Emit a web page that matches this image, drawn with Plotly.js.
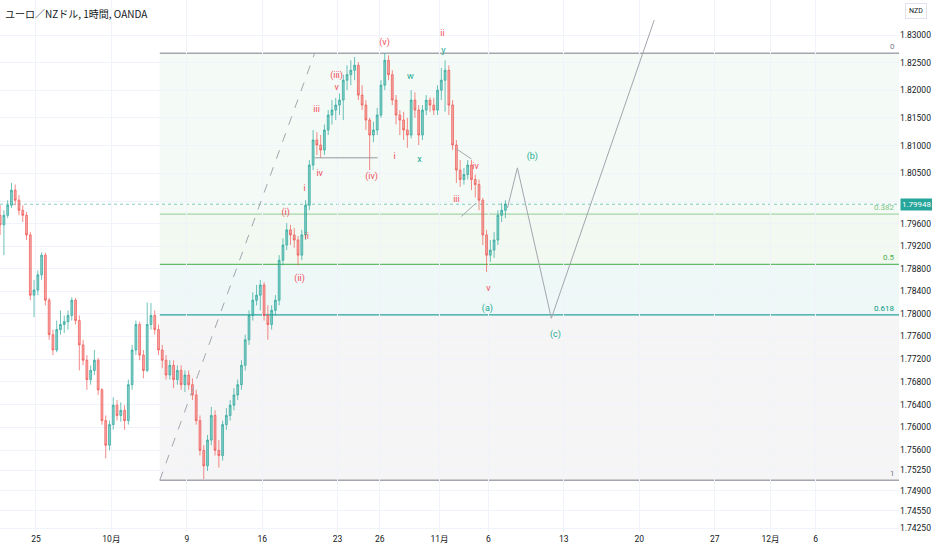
<!DOCTYPE html>
<html><head><meta charset="utf-8">
<script src="https://cdn.plot.ly/plotly-3.0.1.min.js"></script>
<style>html,body{margin:0;padding:0;background:#fff}#chart{width:932px;height:550px}</style>
</head><body><div id="chart"></div>
<script>
// ---- data (EUR/NZD, candles, ~6h resolution) ----
const opens = [
1.7975,1.7958,1.7975,1.7993,1.8020,1.8002,1.7984,1.7975,1.7940,1.7833,
1.7842,1.7869,1.7904,1.7824,1.7763,1.7736,1.7772,1.7781,1.7786,1.7797,
1.7824,1.7788,1.7745,1.7718,1.7684,1.7700,1.7718,1.7666,1.7612,1.7569,
1.7605,1.7639,1.7621,1.7630,1.7612,1.7675,1.7736,1.7781,1.7727,1.7700,
1.7781,1.7797,1.7772,1.7736,1.7718,1.7692,1.7709,1.7684,1.7700,1.7675,
1.7692,1.7675,1.7657,1.7612,1.7560,1.7533,1.7578,1.7621,1.7560,1.7551,
1.7605,1.7621,1.7639,1.7657,1.7675,1.7709,1.7754,1.7797,1.7824,1.7833,
1.7851,1.7797,1.7781,1.7806,1.7824,1.7895,1.7922,1.7949,1.7940,1.7931,
1.7904,1.7940,1.7993,1.8065,1.8110,1.8101,1.8092,1.8128,1.8155,1.8164,
1.8173,1.8182,1.8218,1.8228,1.8236,1.8245,1.8191,1.8173,1.8146,1.8119,
1.8128,1.8155,1.8209,1.8254,1.8228,1.8182,1.8155,1.8146,1.8128,1.8119,
1.8182,1.8164,1.8119,1.8164,1.8182,1.8173,1.8164,1.8200,1.8218,1.8236,
1.8173,1.8101,1.8056,1.8039,1.8048,1.8065,1.8039,1.8030,1.8002,1.7940,
1.7904,1.7913,1.7931,1.7975,1.7984];
const highs = [
1.7993,1.7984,1.8002,1.8033,1.8030,1.8011,1.7993,1.7981,1.7945,1.7860,
1.7877,1.7909,1.7908,1.7828,1.7772,1.7788,1.7806,1.7797,1.7806,1.7829,
1.7828,1.7797,1.7754,1.7727,1.7709,1.7736,1.7722,1.7669,1.7621,1.7612,
1.7653,1.7648,1.7644,1.7639,1.7684,1.7745,1.7788,1.7786,1.7736,1.7820,
1.7819,1.7806,1.7781,1.7745,1.7727,1.7718,1.7718,1.7709,1.7709,1.7700,
1.7700,1.7686,1.7666,1.7621,1.7569,1.7587,1.7636,1.7630,1.7578,1.7612,
1.7634,1.7648,1.7669,1.7684,1.7718,1.7763,1.7806,1.7838,1.7851,1.7860,
1.7856,1.7815,1.7815,1.7833,1.7904,1.7934,1.7961,1.7958,1.7952,1.7938,
1.7949,1.8002,1.8074,1.8128,1.8124,1.8119,1.8138,1.8164,1.8182,1.8186,
1.8194,1.8228,1.8245,1.8254,1.8260,1.8251,1.8209,1.8182,1.8150,1.8143,
1.8168,1.8218,1.8267,1.8263,1.8236,1.8191,1.8164,1.8161,1.8150,1.8200,
1.8196,1.8173,1.8173,1.8191,1.8187,1.8186,1.8209,1.8240,1.8254,1.8245,
1.8182,1.8110,1.8074,1.8060,1.8074,1.8074,1.8048,1.8039,1.8006,1.7949,
1.7931,1.7945,1.7984,1.7997,1.8002];
const lows = [
1.7940,1.7904,1.7970,1.7988,1.7993,1.7975,1.7963,1.7931,1.7824,1.7794,
1.7833,1.7860,1.7815,1.7754,1.7727,1.7732,1.7763,1.7766,1.7772,1.7788,
1.7781,1.7700,1.7709,1.7666,1.7675,1.7692,1.7657,1.7605,1.7546,1.7560,
1.7596,1.7612,1.7610,1.7596,1.7605,1.7666,1.7727,1.7718,1.7686,1.7697,
1.7772,1.7763,1.7727,1.7704,1.7684,1.7684,1.7669,1.7675,1.7666,1.7662,
1.7666,1.7648,1.7605,1.7551,1.7510,1.7524,1.7569,1.7551,1.7530,1.7542,
1.7596,1.7612,1.7630,1.7648,1.7666,1.7700,1.7745,1.7788,1.7815,1.7806,
1.7788,1.7754,1.7772,1.7797,1.7815,1.7886,1.7913,1.7922,1.7917,1.7886,
1.7895,1.7931,1.7984,1.8056,1.8083,1.8078,1.8083,1.8119,1.8138,1.8146,
1.8155,1.8146,1.8200,1.8209,1.8218,1.8182,1.8164,1.8128,1.8056,1.8106,
1.8119,1.8150,1.8200,1.8218,1.8173,1.8138,1.8119,1.8110,1.8096,1.8113,
1.8150,1.8101,1.8110,1.8155,1.8161,1.8155,1.8155,1.8182,1.8161,1.8155,
1.8092,1.8033,1.8026,1.8030,1.8039,1.8020,1.8007,1.7984,1.7922,1.7874,
1.7892,1.7899,1.7922,1.7963,1.7970];
const closes = [
1.7958,1.7975,1.7993,1.8020,1.8002,1.7984,1.7975,1.7940,1.7833,1.7842,
1.7869,1.7904,1.7824,1.7763,1.7736,1.7772,1.7781,1.7786,1.7797,1.7824,
1.7788,1.7745,1.7718,1.7684,1.7700,1.7718,1.7666,1.7612,1.7569,1.7605,
1.7639,1.7621,1.7630,1.7612,1.7675,1.7736,1.7781,1.7727,1.7700,1.7781,
1.7797,1.7772,1.7736,1.7718,1.7692,1.7709,1.7684,1.7700,1.7675,1.7692,
1.7675,1.7657,1.7612,1.7560,1.7533,1.7578,1.7621,1.7560,1.7551,1.7605,
1.7621,1.7639,1.7657,1.7675,1.7709,1.7754,1.7797,1.7824,1.7833,1.7851,
1.7797,1.7781,1.7806,1.7824,1.7895,1.7922,1.7949,1.7940,1.7931,1.7904,
1.7940,1.7993,1.8065,1.8110,1.8101,1.8092,1.8128,1.8155,1.8164,1.8173,
1.8182,1.8218,1.8228,1.8236,1.8245,1.8191,1.8173,1.8146,1.8119,1.8128,
1.8155,1.8209,1.8254,1.8228,1.8182,1.8155,1.8146,1.8128,1.8119,1.8182,
1.8164,1.8119,1.8164,1.8182,1.8173,1.8164,1.8200,1.8218,1.8236,1.8173,
1.8101,1.8056,1.8039,1.8048,1.8065,1.8039,1.8030,1.8002,1.7940,1.7904,
1.7913,1.7931,1.7975,1.7984,1.7995];

const lastPrice = 1.79948;
const firstBarDay = -2.375;   // trading-day index of first bar (0 = Sep 25)
const barDays = 0.25;         // each bar = 6 hours

// time axis (trading days since Sep 25)
const dateTickDays = [0, 5, 10, 15, 20, 22.8, 26.75, 30, 35, 40, 45, 48.7, 51.7];
const dateTickLabels = ['25', '10月', '9', '16', '23', '26', '11月', '6', '13', '20', '27', '12月', '6'];

// price axis
const priceTicks = [1.83,1.825,1.82,1.815,1.81,1.805,1.80,1.796,1.792,1.788,1.784,1.78,1.776,1.772,1.768,1.764,1.76,1.756,1.7525,1.749,1.7455,1.7425];

// Fibonacci retracement
const fibHigh = 1.8267, fibLow = 1.7508, fibStartDay = 8.21;
const fibRatios = [0, 0.382, 0.5, 0.618, 1];
const fibLabels = ['0', '0.382', '0.5', '0.618', '1'];

// Elliott wave labels
const redWaveText  = ['(v)', 'ii', '(iii)', 'v', 'iii', 'iv', '(iv)', 'i', 'i', '(i)', 'ii', '(ii)', 'iv', 'iii', 'v'];
const redWaveDay   = [23.11, 26.95, 19.93, 19.93, 18.61, 18.81, 22.25, 23.77, 17.81, 16.56, 17.95, 17.48, 29.14, 27.88, 30.0];
const redWavePrice = [1.8286, 1.8302, 1.8226, 1.8205, 1.8164, 1.8049, 1.8044, 1.8080, 1.8022, 1.7979, 1.7936, 1.7862, 1.8062, 1.8002, 1.7844];
const tealWaveText  = ['y', 'w', 'x', '(b)', '(a)', '(c)'];
const tealWaveDay   = [27.02, 24.83, 25.43, 32.91, 29.93, 34.44];
const tealWavePrice = [1.8272, 1.8224, 1.8074, 1.8080, 1.7808, 1.7763];

// projection path and drawings
const projDay   = [31.26, 31.92, 34.17, 40.99];
const projPrice = [1.7988, 1.8060, 1.7792, 1.8327];
const trendDay = [8.21, 18.48], trendPrice = [1.7508, 1.8267];
const ivLineDay = [18.48, 22.65], ivLinePrice = 1.8078;
const triUpperDay = [27.88, 28.87], triUpperPrice = [1.8094, 1.8076];
const triLowerDay = [28.21, 29.14], triLowerPrice = [1.7973, 1.7996];

// ---- build ----
const xs = closes.map((_, i) => firstBarDay + i * barDays);
const xRange = [-2.384, 57.22];
const yRangeLog = [0.241001, 0.263962];

const red = '#f0505c', teal = '#22ab94';

const traces = [
  {
    type: 'candlestick', x: xs, open: opens, high: highs, low: lows, close: closes,
    increasing: {line: {color: 'rgba(38,166,154,0.85)', width: 0.8}, fillcolor: 'rgba(38,166,154,0.55)'},
    decreasing: {line: {color: 'rgba(239,83,80,0.85)', width: 0.8}, fillcolor: 'rgba(239,83,80,0.5)'},
    whiskerwidth: 0, hoverinfo: 'skip', showlegend: false
  },
  {
    type: 'scatter', mode: 'lines', x: projDay, y: projPrice,
    line: {color: '#a3a6ae', width: 1}, hoverinfo: 'skip', showlegend: false
  },
  {
    type: 'scatter', mode: 'text', x: redWaveDay, y: redWavePrice, text: redWaveText,
    textfont: {color: red, size: 9, family: 'Roboto, sans-serif'}, cliponaxis: false,
    hoverinfo: 'skip', showlegend: false
  },
  {
    type: 'scatter', mode: 'text', x: tealWaveDay, y: tealWavePrice, text: tealWaveText,
    textfont: {color: teal, size: 9, family: 'Roboto, sans-serif'}, cliponaxis: false,
    hoverinfo: 'skip', showlegend: false
  }
];

const fibPrices = fibRatios.map(r => fibHigh - r * (fibHigh - fibLow));
const fibLineColors = ['#a3a6ae', '#a5d6a7', '#66bb6a', '#26a69a', '#a3a6ae'];
const fibTextColors = ['#787b86', '#81c784', '#4caf50', '#089981', '#787b86'];
const fibFills = ['rgba(76,175,80,0.06)', 'rgba(76,175,80,0.08)', 'rgba(0,150,136,0.07)', 'rgba(120,120,120,0.07)'];

const shapes = [];
for (let k = 0; k < fibFills.length; k++) {
  shapes.push({type: 'rect', xref: 'x', yref: 'y', x0: fibStartDay, x1: xRange[1],
    y0: fibPrices[k], y1: fibPrices[k + 1], fillcolor: fibFills[k], line: {width: 0}, layer: 'below'});
}
fibPrices.forEach((p, k) => {
  shapes.push({type: 'line', xref: 'x', yref: 'y', x0: fibStartDay, x1: xRange[1], y0: p, y1: p,
    line: {color: fibLineColors[k], width: k === 0 || k === 4 ? 1.5 : 1.2}, layer: 'below'});
});
shapes.push({type: 'line', xref: 'paper', yref: 'y', x0: 0, x1: 1, y0: lastPrice, y1: lastPrice,
  line: {color: 'rgba(38,166,154,0.55)', width: 1, dash: 'dot'}, layer: 'below'});
shapes.push({type: 'line', xref: 'x', yref: 'y', x0: trendDay[0], x1: trendDay[1], y0: trendPrice[0], y1: trendPrice[1],
  line: {color: '#a3a6ae', width: 1, dash: 'dash'}});
shapes.push({type: 'line', xref: 'x', yref: 'y', x0: ivLineDay[0], x1: ivLineDay[1], y0: ivLinePrice, y1: ivLinePrice,
  line: {color: '#9598a1', width: 1}});
shapes.push({type: 'line', xref: 'x', yref: 'y', x0: triUpperDay[0], x1: triUpperDay[1], y0: triUpperPrice[0], y1: triUpperPrice[1],
  line: {color: '#a3a6ae', width: 1}});
shapes.push({type: 'line', xref: 'x', yref: 'y', x0: triLowerDay[0], x1: triLowerDay[1], y0: triLowerPrice[0], y1: triLowerPrice[1],
  line: {color: '#a3a6ae', width: 1}});

const annotations = [];
fibPrices.forEach((p, k) => {
  annotations.push({xref: 'paper', yref: 'y', x: 1, y: Math.log10(p), xanchor: 'right', yanchor: 'bottom',
    xshift: -2, yshift: 0, text: fibLabels[k], showarrow: false,
    font: {size: 8, color: fibTextColors[k], family: 'Roboto, sans-serif'}});
});
annotations.push({xref: 'paper', yref: 'y', x: 1, y: Math.log10(lastPrice), xanchor: 'left', yanchor: 'middle',
  xshift: 1, text: lastPrice.toFixed(5), showarrow: false, bgcolor: '#26a69a', borderpad: 1,
  font: {size: 8, color: '#ffffff', family: 'Roboto, sans-serif'}});
annotations.push({xref: 'paper', yref: 'paper', x: 0, y: 1, xanchor: 'left', yanchor: 'top', xshift: 3, yshift: -4,
  text: 'ユーロ／NZドル, 1時間, OANDA', showarrow: false,
  font: {size: 10, color: '#131722', family: 'Noto Sans CJK JP, sans-serif'}});
annotations.push({xref: 'paper', yref: 'paper', x: 1, y: 1, xanchor: 'left', yanchor: 'top', xshift: 6, yshift: -3,
  text: 'NZD', showarrow: false, bordercolor: '#e0e3eb', borderwidth: 1, borderpad: 3,
  font: {size: 7, color: '#131722', family: 'Roboto, sans-serif'}});

const layout = {
  width: 932, height: 550,
  margin: {l: 0, r: 33, t: 0, b: 18},
  paper_bgcolor: '#ffffff', plot_bgcolor: '#ffffff',
  showlegend: false,
  font: {family: 'Roboto, Noto Sans CJK JP, sans-serif', size: 8.5, color: '#131722'},
  xaxis: {
    range: xRange, tickmode: 'array', tickvals: dateTickDays, ticktext: dateTickLabels,
    showgrid: true, gridcolor: '#f0f3fa', zeroline: false, showline: false, ticks: '',
    rangeslider: {visible: false}, fixedrange: true,
    tickfont: {size: 8.5, color: '#131722', family: 'Roboto, Noto Sans CJK JP, sans-serif'}
  },
  yaxis: {
    type: 'log', range: yRangeLog, side: 'right',
    tickmode: 'array', tickvals: priceTicks,
    ticktext: priceTicks.map(v => (v === 1.80 ? '' : v.toFixed(5))),
    showgrid: true, gridcolor: '#f0f3fa', zeroline: false, showline: false, ticks: '',
    fixedrange: true,
    tickfont: {size: 8.5, color: '#131722', family: 'Roboto, sans-serif'}
  },
  shapes: shapes,
  annotations: annotations
};

Plotly.newPlot('chart', traces, layout, {staticPlot: true, displayModeBar: false});
</script>
</body></html>
